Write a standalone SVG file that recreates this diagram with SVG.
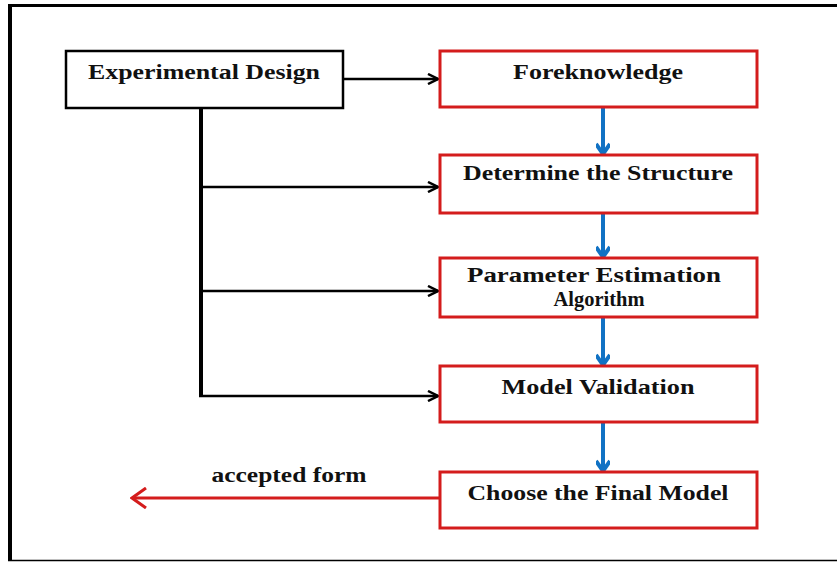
<svg xmlns="http://www.w3.org/2000/svg" width="837" height="562" viewBox="0 0 837 562">
<defs>
<style>
.t{font-family:"Liberation Serif","Times New Roman",serif;font-weight:bold;font-size:20px;fill:#111;text-anchor:middle}
.bk{fill:#fff;stroke:#000;stroke-width:2.5}
.rd{fill:#fff;stroke:#d41c1c;stroke-width:3}
.cb{fill:none;stroke:#000;stroke-width:2.5}
.cu{fill:none;stroke:#1172c4;stroke-width:4}
.cr{fill:none;stroke:#d41c1c;stroke-width:3}
</style>
<marker id="ab" viewBox="0 0 12 12" refX="11" refY="6" markerWidth="12" markerHeight="12" markerUnits="userSpaceOnUse" orient="auto"><path d="M1,1 L11,6 L1,11" fill="none" stroke="#000" stroke-width="2.5"/></marker>
<marker id="au" viewBox="0 0 24 14" refX="22" refY="7" markerWidth="24" markerHeight="14" markerUnits="userSpaceOnUse" orient="auto"><path d="M12,0 L22,7 L12,14" fill="none" stroke="#1172c4" stroke-width="4"/></marker>
<marker id="ar" viewBox="0 0 20 22" refX="18" refY="11" markerWidth="20" markerHeight="22" markerUnits="userSpaceOnUse" orient="auto"><path d="M4,1 L18,11 L4,21" fill="none" stroke="#d41c1c" stroke-width="3"/></marker>
</defs>
<rect width="837" height="562" fill="#fff"/>
<g id="frame">
<line x1="8" y1="5.5" x2="837" y2="5.5" stroke="#000" stroke-width="3"/>
<line x1="10" y1="4" x2="10" y2="561" stroke="#000" stroke-width="4"/>
<line x1="8" y1="560.5" x2="837" y2="560.5" stroke="#000" stroke-width="1.5"/>
</g>
<g id="connectors">
<line class="cb" x1="343" y1="79" x2="438" y2="79" marker-end="url(#ab)"/>
<line x1="201" y1="108" x2="201" y2="396" stroke="#000" stroke-width="4"/>
<line class="cb" x1="201" y1="187" x2="438" y2="187" marker-end="url(#ab)"/>
<line class="cb" x1="201" y1="291" x2="438" y2="291" marker-end="url(#ab)"/>
<line class="cb" x1="199" y1="396" x2="438" y2="396" marker-end="url(#ab)"/>
<line class="cu" x1="603" y1="107" x2="603" y2="154" marker-end="url(#au)"/>
<line class="cu" x1="603" y1="213" x2="603" y2="257" marker-end="url(#au)"/>
<line class="cu" x1="603" y1="317" x2="603" y2="365" marker-end="url(#au)"/>
<line class="cu" x1="603" y1="422" x2="603" y2="471" marker-end="url(#au)"/>
<line class="cr" x1="440" y1="498" x2="132" y2="498" marker-end="url(#ar)"/>
<text class="t" x="289" y="482" textLength="155" lengthAdjust="spacingAndGlyphs">accepted form</text>
</g>
<g id="n1"><rect class="bk" x="66" y="51" width="277" height="57"/><text class="t" x="204" y="79" textLength="232" lengthAdjust="spacingAndGlyphs">Experimental Design</text></g>
<g id="n2"><rect class="rd" x="440" y="51" width="317" height="56"/><text class="t" x="598" y="79" textLength="170" lengthAdjust="spacingAndGlyphs">Foreknowledge</text></g>
<g id="n3"><rect class="rd" x="440" y="155" width="317" height="58"/><text class="t" x="598" y="180" textLength="270" lengthAdjust="spacingAndGlyphs">Determine the Structure</text></g>
<g id="n4"><rect class="rd" x="440" y="258" width="317" height="59"/><text class="t" x="594" y="282" textLength="254" lengthAdjust="spacingAndGlyphs">Parameter Estimation</text><text class="t" x="599" y="306" textLength="91" lengthAdjust="spacingAndGlyphs">Algorithm</text></g>
<g id="n5"><rect class="rd" x="440" y="366" width="317" height="56"/><text class="t" x="598" y="394" textLength="193" lengthAdjust="spacingAndGlyphs">Model Validation</text></g>
<g id="n6"><rect class="rd" x="440" y="472" width="317" height="56"/><text class="t" x="598" y="500" textLength="261" lengthAdjust="spacingAndGlyphs">Choose the Final Model</text></g>
</svg>
